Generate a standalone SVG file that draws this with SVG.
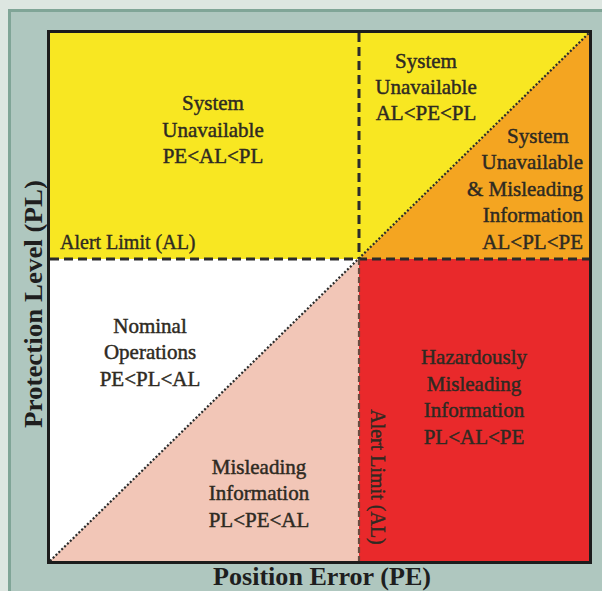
<svg xmlns="http://www.w3.org/2000/svg" width="602" height="591" viewBox="0 0 602 591">
<style>
  .t{font-family:"Liberation Serif","Times New Roman",serif;font-size:21px;fill:#2e2a22;stroke:#2e2a22;stroke-width:0.45;text-anchor:middle}
  .r{text-anchor:end}
  .lab{font-family:"Liberation Serif","Times New Roman",serif;font-size:20px;fill:#2e2a22;stroke:#2e2a22;stroke-width:0.4}
  .ax{font-family:"Liberation Serif","Times New Roman",serif;font-weight:bold;font-size:25px;fill:#1e1e1e;text-anchor:middle}
  .dash{stroke:#2b2b2b;stroke-width:3;stroke-dasharray:9 5;fill:none}
  .dashb{stroke:#6a4a3e;stroke-width:2.2;stroke-dasharray:6 3;fill:none}
  .dot{stroke:#2b2b2b;stroke-width:2.2;stroke-dasharray:2 2;fill:none}
</style>
<rect x="0" y="0" width="602" height="591" fill="#dde6e1"/>
<rect x="9.5" y="10.5" width="600" height="590" fill="#afc7bf" stroke="#80a597" stroke-width="3"/>

<g id="regions">
  <g id="sys-unavail-1"><rect x="50" y="33" width="309" height="226" fill="#f8e722"/></g>
  <g id="sys-unavail-2"><polygon points="359,33 589,33 359,259" fill="#f8e722"/></g>
  <g id="sys-unavail-mislead"><polygon points="589,33 589,259 359,259" fill="#f4a521"/></g>
  <g id="nominal"><polygon points="50,259 359,259 50,561" fill="#ffffff"/></g>
  <g id="misleading"><polygon points="359,259 359,561 50,561" fill="#f2c6b7"/></g>
  <g id="hazard"><rect x="359" y="259" width="230" height="302" fill="#e9292b"/></g>
</g>

<g id="connectors">
  <line class="dash" x1="50" y1="259" x2="589" y2="259"/>
  <line class="dash" x1="359" y1="33" x2="359" y2="259"/>
  <line class="dashb" x1="359" y1="259" x2="359" y2="561"/>
  <line class="dot" x1="50" y1="561" x2="589" y2="33"/>
</g>

<rect x="48.5" y="31.5" width="542" height="531" fill="none" stroke="#1c1c1c" stroke-width="3"/>

<g id="labels">
  <text class="t" x="213" y="110">System</text>
  <text class="t" x="213" y="137">Unavailable</text>
  <text class="t" x="213" y="163">PE&lt;AL&lt;PL</text>

  <text class="t" x="426" y="68">System</text>
  <text class="t" x="426" y="94">Unavailable</text>
  <text class="t" x="426" y="120">AL&lt;PE&lt;PL</text>

  <text class="t" x="538" y="143">System</text>
  <text class="t r" x="583" y="169">Unavailable</text>
  <text class="t r" x="583" y="196">&amp; Misleading</text>
  <text class="t r" x="583" y="222">Information</text>
  <text class="t r" x="583" y="249">AL&lt;PL&lt;PE</text>

  <text class="lab" x="60" y="249">Alert Limit (AL)</text>

  <text class="t" x="150" y="333">Nominal</text>
  <text class="t" x="150" y="359">Operations</text>
  <text class="t" x="150" y="386">PE&lt;PL&lt;AL</text>

  <text class="t" x="259" y="474">Misleading</text>
  <text class="t" x="259" y="500">Information</text>
  <text class="t" x="259" y="527">PL&lt;PE&lt;AL</text>

  <text class="t" x="474" y="364">Hazardously</text>
  <text class="t" x="474" y="391">Misleading</text>
  <text class="t" x="474" y="417">Information</text>
  <text class="t" x="474" y="444">PL&lt;AL&lt;PE</text>

  <text class="lab" transform="translate(371,477) rotate(90)" text-anchor="middle">Alert Limit (AL)</text>

  <text class="ax" transform="translate(42,304) rotate(-90)" textLength="248" lengthAdjust="spacingAndGlyphs">Protection Level (PL)</text>
  <text class="ax" x="322" y="585" textLength="218" lengthAdjust="spacingAndGlyphs">Position Error (PE)</text>
</g>
</svg>
